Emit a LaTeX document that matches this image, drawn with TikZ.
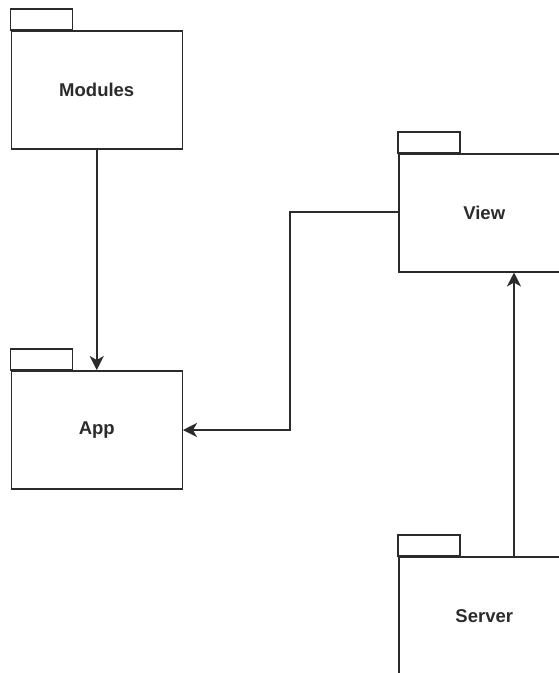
\documentclass[tikz,border=0pt]{standalone}
\usepackage{fontspec}
\setmainfont{Liberation Sans}
\usetikzlibrary{arrows.meta}
\definecolor{ink}{HTML}{2B2B2B}
\tikzset{
  x=1pt, y=-1pt,
  pkgline/.style={draw=ink, line width=1.5pt, fill=white},
  pkgtext/.style={font=\fontsize{18.5}{22}\selectfont\bfseries, text=ink},
  link/.style={draw=ink, line width=1.5pt, -{Stealth[length=14pt, width=14pt, inset=4pt]}},
}
% a UML package: tab on top, body below; #1 name, #2 left x, #3 top of body, #4 label
\newcommand{\umlpackage}[4]{%
  \draw[pkgline] (#2,#3-21) rectangle (#2+62,#3);
  \node[pkgline, minimum width=171pt, minimum height=118pt, inner sep=0pt,
        anchor=north west, pkgtext] (#1) at (#2,#3) {#4};
}
\begin{document}
\begin{tikzpicture}
  \useasboundingbox (0,0) rectangle (558,673);
  \umlpackage{modules}{10.5}{30}{Modules}
  \umlpackage{app}{10.5}{370}{App}
  \umlpackage{view}{398}{153}{View}
  \umlpackage{server}{398}{556}{Server}

  \coordinate (bend1) at (290, 212);
  \coordinate (bend2) at (290, 430);

  \draw[link] (modules.south) -- (app.north);
  \draw[link] (view.west |- bend1) -- (bend1) -- (bend2) -- (app.east |- bend2);
  \draw[link] (server.north -| 514,0) -- (view.south -| 514,0);
\end{tikzpicture}
\end{document}
